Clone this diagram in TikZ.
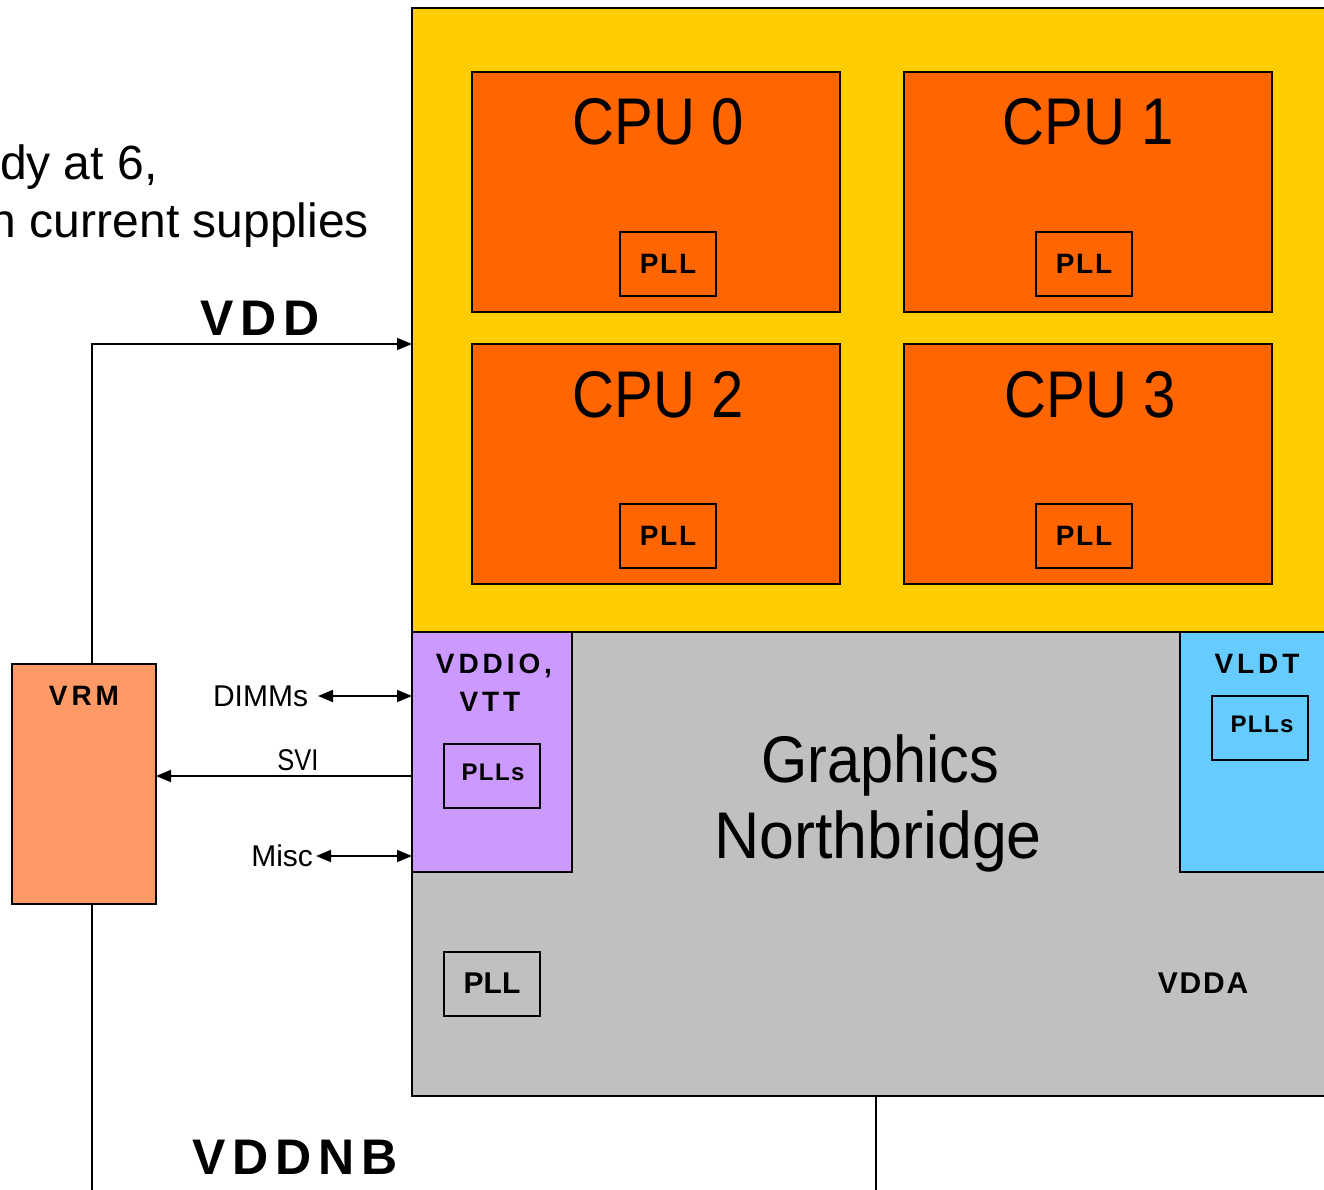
\documentclass[tikz,border=0pt]{standalone}
\usepackage{fontspec}
\usepackage{graphicx}
\usetikzlibrary{arrows.meta}
\setmainfont{Liberation Sans}
\newfontfamily\trackfont[LetterSpace=14]{Liberation Sans}
\newfontfamily\semitrack[LetterSpace=6]{Liberation Sans}

\definecolor{coreyellow}{HTML}{FFCC00}
\definecolor{cpuorange}{HTML}{FF6600}
\definecolor{nbgray}{HTML}{C0C0C0}
\definecolor{ioviolet}{HTML}{CC99FF}
\definecolor{ldtblue}{HTML}{66CCFF}
\definecolor{vrmsalmon}{HTML}{FF9966}

\tikzset{
  blk/.style={draw=black, line width=1.4pt, inner sep=0pt, outer sep=0pt, anchor=north west},
  pllbox/.style={blk, line width=1.1pt, minimum width=96pt, minimum height=64pt},
  cpubox/.style={blk, fill=cpuorange, minimum width=368pt, minimum height=240pt},
  txt/.style={inner sep=0pt, outer sep=0pt, anchor=base, text=black},
  wire/.style={draw=black, line width=1.8pt},
  tip/.tip={Triangle[length=15pt,width=12pt]},
  arr/.style={wire, -tip},
  dblarr/.style={wire, tip-tip},
  bigcpu/.style={txt, font=\fontsize{66}{76}\selectfont},
  pllfont/.style={txt, font=\semitrack\bfseries\fontsize{28}{32}\selectfont},
  sigfont/.style={inner sep=0pt, outer sep=0pt, font=\fontsize{30}{34}\selectfont},
}

\begin{document}
\begin{tikzpicture}[x=1pt, y=-1pt]
\useasboundingbox (0,0) rectangle (1324,1190);
\clip (0,0) rectangle (1324,1190);

% processor core area and northbridge area
\node[blk, fill=coreyellow, minimum width=930pt, minimum height=624pt] (core) at (412,8) {};
\node[blk, fill=nbgray, minimum width=930pt, minimum height=464pt] (nb) at (412,632) {};
\node[blk, fill=ioviolet, minimum width=160pt, minimum height=240pt] (vddio) at (412,632) {};
\node[blk, fill=ldtblue, minimum width=160pt, minimum height=240pt] (vldt) at (1180,632) {};

% four cores with their PLLs
\node[cpubox] (cpu0) at (472,72) {};
\node[cpubox] (cpu1) at (904,72) {};
\node[cpubox] (cpu2) at (472,344) {};
\node[cpubox] (cpu3) at (904,344) {};
\node[pllbox] (pll0) at (620,232) {};
\node[pllbox] (pll1) at (1036,232) {};
\node[pllbox] (pll2) at (620,504) {};
\node[pllbox] (pll3) at (1036,504) {};

\node[bigcpu] at (658,145) {\scalebox{0.88}[1]{CPU 0}};
\node[bigcpu] at (1088,145) {\scalebox{0.88}[1]{CPU 1}};
\node[bigcpu] at (658,417) {\scalebox{0.88}[1]{CPU 2}};
\node[bigcpu] at (1090,417) {\scalebox{0.88}[1]{CPU 3}};
\node[pllfont] at (668,273) {PLL};
\node[pllfont] at (1084,273) {PLL};
\node[pllfont] at (668,545) {PLL};
\node[pllfont] at (1084,545) {PLL};

% I/O supply island
\node[txt, font=\trackfont\bfseries\fontsize{28}{32}\selectfont] at (494,673) {VDDIO,};
\node[txt, font=\trackfont\bfseries\fontsize{28}{32}\selectfont] at (490,711) {VTT};
\node[pllbox] (pllio) at (444,744) {};
\node[txt, font=\semitrack\bfseries\fontsize{24}{28}\selectfont] at (493,780) {PLLs};

% link supply island
\node[txt, font=\trackfont\bfseries\fontsize{28}{32}\selectfont] at (1257,673) {VLDT};
\node[pllbox] (pllldt) at (1212,696) {};
\node[txt, font=\semitrack\bfseries\fontsize{24}{28}\selectfont] at (1262,732) {PLLs};

% northbridge contents
\node[txt, font=\fontsize{66}{76}\selectfont] at (880,782) {\scalebox{0.9}[1]{Graphics}};
\node[txt, font=\fontsize{66}{76}\selectfont] at (878,858) {\scalebox{0.95}[1]{Northbridge}};
\node[pllbox] (pllnb) at (444,952) {};
\node[txt, font=\bfseries\fontsize{30}{34}\selectfont] at (492,993) {PLL};
\node[txt, font=\semitrack\bfseries\fontsize{30}{34}\selectfont] at (1203,993) {VDDA};

% voltage regulator
\node[blk, fill=vrmsalmon, line width=1.2pt, minimum width=144pt, minimum height=240pt] (vrm) at (12,664) {};
\node[txt, font=\trackfont\bfseries\fontsize{28}{32}\selectfont] at (84,705) {VRM};

% supply rails
\coordinate (vddin) at (412,344);
\coordinate (vddnbend) at (92,1190);
\coordinate (nbrail) at (876,1190);
\draw[arr] ([xshift=8pt]vrm.north) |- (vddin);
\draw[wire] ([xshift=8pt]vrm.south) -- (vddnbend);
\draw[wire] (nb.south -| nbrail) -- (nbrail);
\node[txt, font=\trackfont\bfseries\fontsize{50}{56}\selectfont] at (260,335) {VDD};
\node[txt, font=\trackfont\bfseries\fontsize{50}{56}\selectfont] at (295,1174) {VDDNB};

% signal connections
\coordinate (dimmsend) at (318,696);
\coordinate (svitap) at (412,776);
\coordinate (miscend) at (316,856);
\draw[dblarr] (dimmsend) -- (vddio.west |- dimmsend);
\draw[arr] (svitap) -- (vrm.east |- svitap);
\draw[dblarr] (miscend) -- (vddio.west |- miscend);
\node[sigfont, anchor=east] at ([xshift=-10pt]dimmsend) {DIMMs};
\node[sigfont, anchor=base] at (298,770) {\scalebox{0.85}[1]{SVI}};
\node[sigfont, anchor=east] at ([xshift=-3pt]miscend) {Misc};

% caption text running off the left edge
\node[txt, anchor=base west, font=\fontsize{48}{56}\selectfont] at (0,180) {dy at 6,};
\node[txt, anchor=base west, font=\fontsize{48}{56}\selectfont] at (-10,238) {n current supplies};
\end{tikzpicture}
\end{document}
